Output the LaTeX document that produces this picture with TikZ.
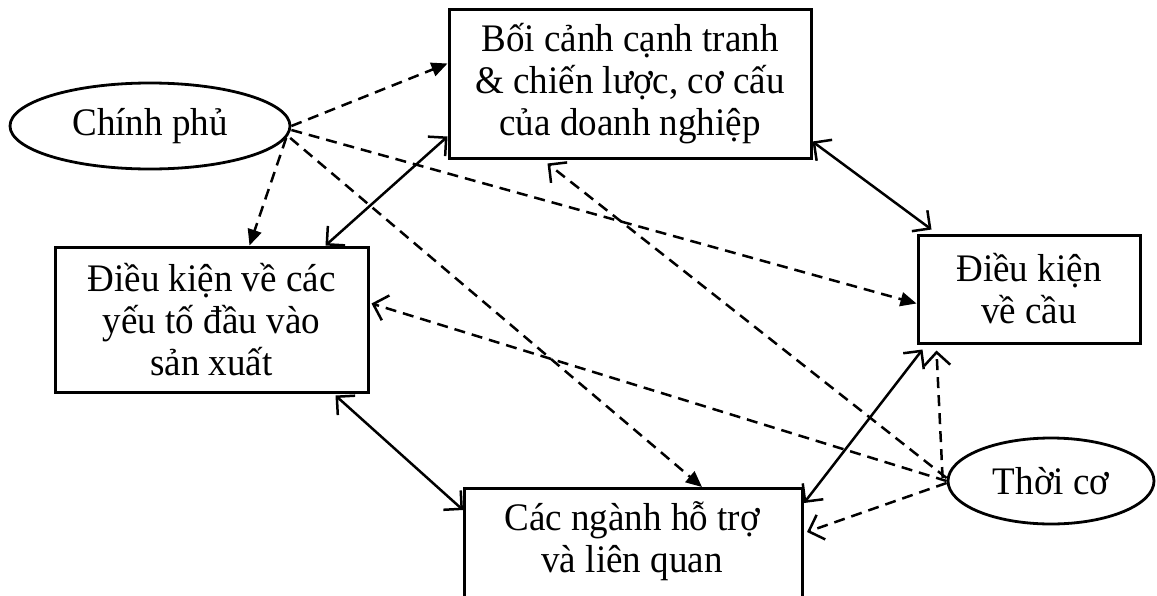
\documentclass[tikz,border=0pt]{standalone}
\usepackage{fontspec}
\setmainfont{Liberation Serif}[FakeStretch=0.95]
\usetikzlibrary{arrows.meta,shapes.geometric}
\begin{document}
\begin{tikzpicture}[x=1pt,y=-1pt,
  txtfont/.style={font=\fontsize{39}{42}\selectfont},
  box/.style={draw, line width=3pt, inner sep=0pt, align=center, txtfont},
  oval/.style={draw, ellipse, line width=2.8pt, inner sep=0pt, txtfont},
  lbl/.style={inner sep=0pt, align=center, txtfont},
  gov/.style={line width=2.5pt, dash pattern=on 11pt off 7pt,
    -{Triangle[length=16pt,width=14pt]}},
  chance/.style={line width=2.5pt, dash pattern=on 11pt off 7pt,
    -{Straight Barb[length=13pt,width=26pt]}},
  link/.style={line width=2.5pt,
    {Straight Barb[length=13pt,width=26pt]}-{Straight Barb[length=13pt,width=26pt]}},
]
\useasboundingbox (0,0) rectangle (1157,595);
\clip (0,0) rectangle (1157,595);

% nodes
\node[oval, minimum width=280pt, minimum height=86pt] (cp) at (150,126) {Chính phủ};
\node[oval, minimum width=206pt, minimum height=86pt] (tc) at (1051,481) {Thời cơ};
\node[box, minimum width=362pt, minimum height=149pt] (top) at (630,83.5)
  {Bối cảnh cạnh tranh\\\& chiến lược, cơ cấu\\của doanh nghiệp};
\node[box, minimum width=313pt, minimum height=145pt] (left) at (211.5,319.5)
  {Điều kiện về các\\yếu tố đầu vào\\sản xuất};
\node[box, minimum width=222pt, minimum height=108pt] (right) at (1029,289)
  {Điều kiện\\về cầu};
\node[box, minimum width=338pt, minimum height=160pt, anchor=north west] (bot) at (463,487) {};
\node[lbl] (botlabel) at (632,541) {Các ngành hỗ trợ\\và liên quan};

% government influences
\draw[gov] (cp.east) -- ([yshift=-56pt]top.north west);
\draw[gov] (cp.-5) -- ([xshift=196pt]left.north west);
\draw[gov] ([yshift=-4pt]cp.east) -- ([yshift=-70pt]right.north west);
\draw[gov] ([xshift=4pt]cp.-5) -- ([xshift=239pt]bot.north west);

% chance influences
\draw[chance] ([yshift=3pt]tc.west) -- ([xshift=100pt,yshift=-4pt]top.south west);
\draw[chance] (tc.west) -- ([xshift=2pt,yshift=-58pt]left.north east);
\draw[chance] ([xshift=-4pt,yshift=3pt]tc.west) -- ([xshift=20pt,yshift=-6pt]right.south west);
\draw[chance] ([yshift=-2pt]tc.west) -- ([xshift=3pt,yshift=-45pt]bot.north east);

% mutual links
\draw[link] ([xshift=272pt]left.north west) -- ([yshift=23pt]top.south west);
\draw[link] ([yshift=18pt]top.south east) -- ([xshift=15pt,yshift=4pt]right.north west);
\draw[link] ([xshift=282pt,yshift=-2pt]left.south west) -- ([yshift=-23pt]bot.north west);
\draw[link] ([yshift=-16pt]bot.north east) -- ([xshift=6pt,yshift=-5pt]right.south west);
\end{tikzpicture}
\end{document}
